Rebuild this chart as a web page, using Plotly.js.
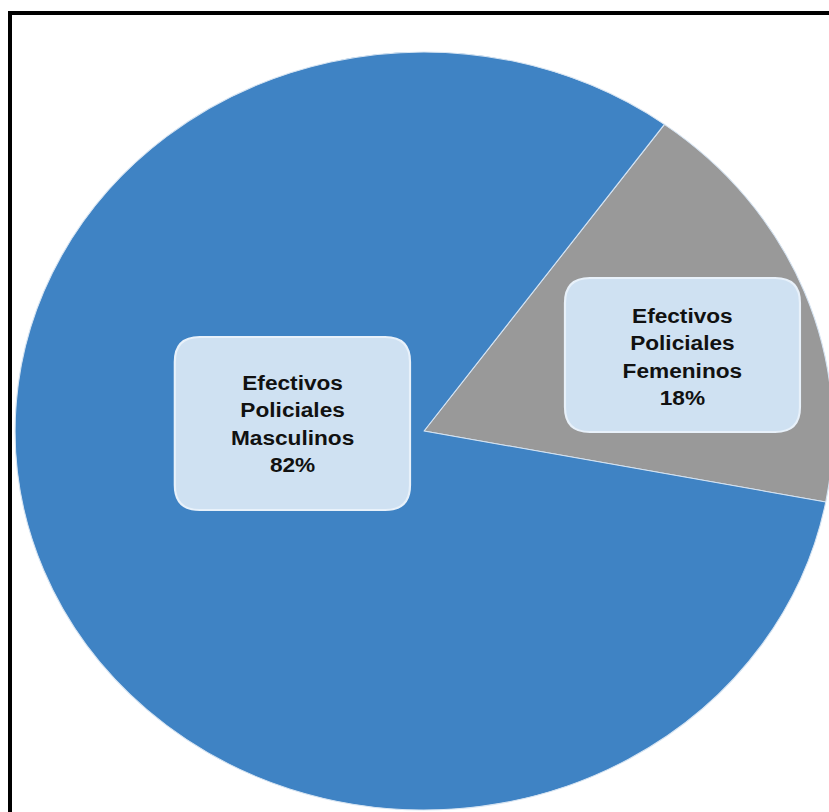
<!DOCTYPE html>
<html>
<head>
<meta charset="utf-8">
<script src="https://cdn.plot.ly/plotly-3.0.1.min.js"></script>
<style>
  html, body { margin:0; padding:0; width:829px; height:812px; overflow:hidden; background:#fff; }
  #wrap { position:absolute; left:0; top:0; width:786px; height:812px; transform:scaleX(1.079); transform-origin:0 0; }
  #chart { width:786px; height:812px; }
  #frame { position:absolute; left:8px; top:11px; width:1000px; height:1000px;
           border-top:4px solid #000; border-left:4px solid #000; pointer-events:none; z-index:10; }
</style>
</head>
<body>
<div id="wrap"><div id="chart"></div></div>
<div id="frame"></div>
<script>
// ---- data ----
var categories = ['Efectivos Policiales Femeninos', 'Efectivos Policiales Masculinos'];
var labelLines = [['Efectivos', 'Policiales', 'Femeninos'], ['Efectivos', 'Policiales', 'Masculinos']];
var values = [18, 82];
var sliceColors = ['#999999', '#3f83c4'];

// ---- layout helpers (pixels of the unscaled 786x812 plot) ----
var W = 786, H = 812;
function px(x) { return x / W; }
function py(y) { return 1 - y / H; }
function roundRect(x0, y0, x1, y1, rx, ry) {
  return 'M' + px(x0 + rx) + ',' + py(y0) +
    ' L' + px(x1 - rx) + ',' + py(y0) +
    ' Q' + px(x1) + ',' + py(y0) + ' ' + px(x1) + ',' + py(y0 + ry) +
    ' L' + px(x1) + ',' + py(y1 - ry) +
    ' Q' + px(x1) + ',' + py(y1) + ' ' + px(x1 - rx) + ',' + py(y1) +
    ' L' + px(x0 + rx) + ',' + py(y1) +
    ' Q' + px(x0) + ',' + py(y1) + ' ' + px(x0) + ',' + py(y1 - ry) +
    ' L' + px(x0) + ',' + py(y0 + ry) +
    ' Q' + px(x0) + ',' + py(y0) + ' ' + px(x0 + rx) + ',' + py(y0) + ' Z';
}

// label boxes: [x0, y0, x1, y1] and text centre
var boxes = [
  {box: [523.6, 278, 741.4, 432], tx: 632, ty: 356},   // Femeninos
  {box: [162, 337, 380, 510], tx: 270.6, ty: 423}      // Masculinos
];

var shapes = [], annotations = [];
boxes.forEach(function (b, i) {
  shapes.push({
    type: 'path', xref: 'paper', yref: 'paper',
    path: roundRect(b.box[0], b.box[1], b.box[2], b.box[3], 23, 25),
    fillcolor: '#cfe1f2', line: {color: '#e8f1fa', width: 2}, layer: 'above'
  });
  annotations.push({
    xref: 'paper', yref: 'paper', x: px(b.tx), y: py(b.ty),
    xanchor: 'center', yanchor: 'middle', showarrow: false, align: 'center',
    text: '<b>' + labelLines[i].join('<br>') + '<br>' + values[i] + '%</b>',
    font: {family: 'Liberation Sans, Arial, sans-serif', size: 21, color: '#111111'}
  });
});

var trace = {
  type: 'pie',
  labels: categories,
  values: values,
  sort: false,
  direction: 'clockwise',
  rotation: 36,
  textinfo: 'none',
  hoverinfo: 'label+percent',
  marker: {colors: sliceColors, line: {color: '#d6e4f2', width: 1}},
  domain: {x: [0, 1], y: [py(810), py(52)]}
};

var layout = {
  width: W, height: H,
  margin: {l: 0, r: 0, t: 0, b: 0},
  showlegend: false,
  paper_bgcolor: 'rgba(0,0,0,0)',
  plot_bgcolor: 'rgba(0,0,0,0)',
  shapes: shapes,
  annotations: annotations
};

Plotly.newPlot('chart', [trace], layout, {displayModeBar: false, staticPlot: true});
</script>
</body>
</html>
